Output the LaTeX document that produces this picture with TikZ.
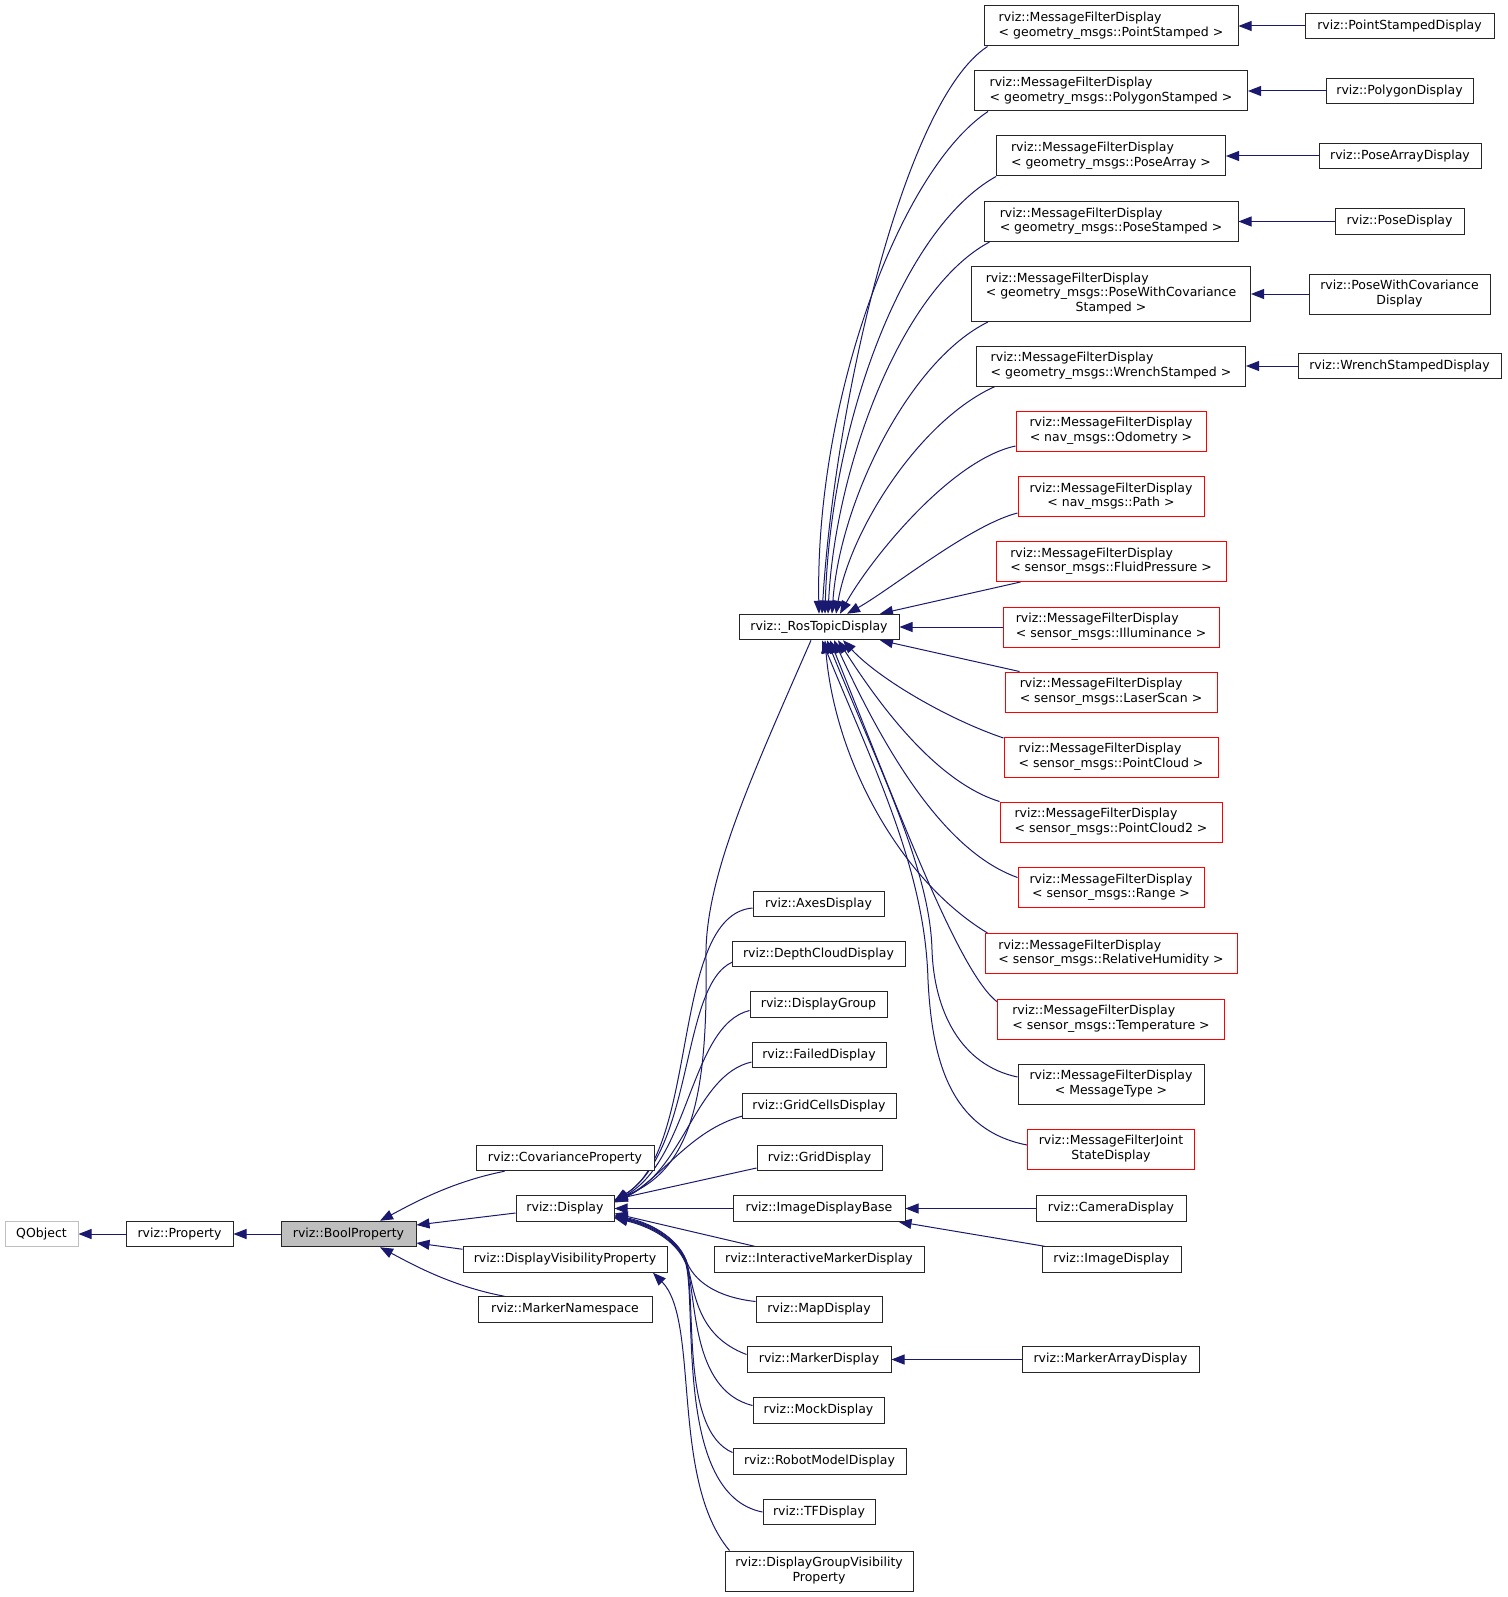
\documentclass[tikz,border=0pt]{standalone}
\usepackage{fontspec}
\setmainfont{DejaVu Sans}
\usetikzlibrary{arrows.meta,calc}
\definecolor{edgeblue}{HTML}{191970}
\definecolor{greyseventyfive}{HTML}{BFBFBF}
\pgfdeclarelayer{edgelayer}
\pgfsetlayers{edgelayer,main}
\newcommand\mfdtwo[2]{\begin{tabular}{@{}c@{}}\multicolumn{1}{@{}l@{}}{#1}\\#2\end{tabular}}
\newcommand\ctwo[2]{\begin{tabular}{@{}c@{}}#1\\#2\end{tabular}}
\newcommand\mfd[1]{\mfdtwo{rviz::MessageFilterDisplay}{#1}}
\begin{document}
\begin{tikzpicture}[x=1pt,y=-1pt,
  box/.style={draw=black!85, line width=1pt, fill=white, inner sep=0pt, minimum height=25.5pt, font=\fontsize{12.5}{14.4}\selectfont, text=black},
  redbox/.style={box, draw=red},
  extbox/.style={box, draw=greyseventyfive},
  two/.style={minimum height=40pt},
  three/.style={minimum height=55pt},
  edge/.style={draw=edgeblue, line width=1pt, {Triangle[length=13pt,width=10pt]}-}
]
\begin{pgfonlayer}{edgelayer}
\fill[white] (0,0) rectangle (1507,1597);
\end{pgfonlayer}
\useasboundingbox (0,0) rectangle (1507,1597);

% left part
\node[extbox, minimum width=73pt] (qobject) at (41.5,1234) {QObject};
\node[box, minimum width=107pt] (property) at (179.5,1234) {rviz::Property};
\node[box, minimum width=135pt, fill=greyseventyfive] (boolp) at (348.5,1234) {rviz::BoolProperty};
\node[box, minimum width=178pt] (covp) at (565,1158) {rviz::CovarianceProperty};
\node[box, minimum width=98pt] (display) at (565,1208.5) {rviz::Display};
\node[box, minimum width=204pt] (dvp) at (565,1259.5) {rviz::DisplayVisibilityProperty};
\node[box, minimum width=174pt] (markerns) at (565,1309.5) {rviz::MarkerNamespace};

% middle column
\node[box, minimum width=160pt] (ros) at (819,627) {rviz::\_RosTopicDisplay};
\node[box, minimum width=131pt] (axes) at (818.5,904) {rviz::AxesDisplay};
\node[box, minimum width=173pt] (depth) at (818.5,954) {rviz::DepthCloudDisplay};
\node[box, minimum width=137pt] (dgroup) at (818.5,1004.5) {rviz::DisplayGroup};
\node[box, minimum width=134pt] (failed) at (819,1055) {rviz::FailedDisplay};
\node[box, minimum width=154pt] (gridcells) at (819,1106) {rviz::GridCellsDisplay};
\node[box, minimum width=125pt] (grid) at (819.5,1158) {rviz::GridDisplay};
\node[box, minimum width=172pt] (idb) at (819,1208.5) {rviz::ImageDisplayBase};
\node[box, minimum width=210pt] (imark) at (819,1259.5) {rviz::InteractiveMarkerDisplay};
\node[box, minimum width=126pt] (map) at (819,1309.5) {rviz::MapDisplay};
\node[box, minimum width=144pt] (marker) at (819,1359.5) {rviz::MarkerDisplay};
\node[box, minimum width=131pt] (mock) at (818.5,1410.5) {rviz::MockDisplay};
\node[box, minimum width=173pt] (robot) at (819.5,1461.5) {rviz::RobotModelDisplay};
\node[box, minimum width=112pt] (tf) at (819,1512) {rviz::TFDisplay};
\node[box, two, minimum width=188pt] (dgvp) at (819,1571) {\ctwo{rviz::DisplayGroupVisibility}{Property}};

% right column
\node[box, minimum width=150pt] (camera) at (1111,1208.5) {rviz::CameraDisplay};
\node[box, minimum width=139pt] (image) at (1111.5,1259.5) {rviz::ImageDisplay};
\node[box, minimum width=177pt] (markerarr) at (1110.5,1359.5) {rviz::MarkerArrayDisplay};

\node[box, two, minimum width=254pt] (m1) at (1111,26) {\mfd{< geometry\_msgs::PointStamped >}};
\node[box, two, minimum width=273pt] (m2) at (1111,91) {\mfd{< geometry\_msgs::PolygonStamped >}};
\node[box, two, minimum width=229pt] (m3) at (1111,156) {\mfd{< geometry\_msgs::PoseArray >}};
\node[box, two, minimum width=254pt] (m4) at (1111,221.5) {\mfd{< geometry\_msgs::PoseStamped >}};
\node[box, three, minimum width=279pt] (m5) at (1111,294) {\begin{tabular}{@{}l@{}}rviz::MessageFilterDisplay\\< geometry\_msgs::PoseWithCovariance\\\multicolumn{1}{@{}c@{}}{Stamped >}\end{tabular}};
\node[box, two, minimum width=269pt] (m6) at (1111,366) {\mfd{< geometry\_msgs::WrenchStamped >}};
\node[redbox, two, minimum width=190pt] (m7) at (1111,431) {\mfd{< nav\_msgs::Odometry >}};
\node[redbox, two, minimum width=186pt] (m8) at (1111,496.5) {\mfd{< nav\_msgs::Path >}};
\node[redbox, two, minimum width=230pt] (m9) at (1111,561.5) {\mfd{< sensor\_msgs::FluidPressure >}};
\node[redbox, two, minimum width=216pt] (m10) at (1111,627) {\mfd{< sensor\_msgs::Illuminance >}};
\node[redbox, two, minimum width=212pt] (m11) at (1111,692) {\mfd{< sensor\_msgs::LaserScan >}};
\node[redbox, two, minimum width=214pt] (m12) at (1111,757) {\mfd{< sensor\_msgs::PointCloud >}};
\node[redbox, two, minimum width=222pt] (m13) at (1111,822) {\mfd{< sensor\_msgs::PointCloud2 >}};
\node[redbox, two, minimum width=186pt] (m14) at (1111,887.5) {\mfd{< sensor\_msgs::Range >}};
\node[redbox, two, minimum width=252pt] (m15) at (1111,953.5) {\mfd{< sensor\_msgs::RelativeHumidity >}};
\node[redbox, two, minimum width=227pt] (m16) at (1111,1019) {\mfd{< sensor\_msgs::Temperature >}};
\node[box, two, minimum width=186pt] (m17) at (1111,1084) {\mfd{< MessageType >}};
\node[redbox, two, minimum width=167pt] (m18) at (1111,1149) {\ctwo{rviz::MessageFilterJoint}{StateDisplay}};

% far right column
\node[box, minimum width=189pt] (d1) at (1399.5,26) {rviz::PointStampedDisplay};
\node[box, minimum width=147pt] (d2) at (1399.5,91) {rviz::PolygonDisplay};
\node[box, minimum width=162pt] (d3) at (1400,156) {rviz::PoseArrayDisplay};
\node[box, minimum width=129pt] (d4) at (1399.5,221.5) {rviz::PoseDisplay};
\node[box, two, minimum width=181pt] (d5) at (1399.5,294) {\ctwo{rviz::PoseWithCovariance}{Display}};
\node[box, minimum width=203pt] (d6) at (1399.5,366) {rviz::WrenchStampedDisplay};

% ---------- edges ----------
\begin{pgfonlayer}{edgelayer}
\draw[edge] (qobject.east) -- (property.west);
\draw[edge] (property.east) -- (boolp.west);
\draw[edge] ($(boolp.north)+(31.5,0)$) .. controls (410,1205) and (450,1182) .. ($(covp.south west)+(29,0)$);
\draw[edge] ($(boolp.east)+(0,-9)$) -- ($(display.west)+(0,4.5)$);
\draw[edge] ($(boolp.east)+(0,9)$) -- ($(dvp.north west)+(0,3)$);
\draw[edge] ($(boolp.south)+(31.5,0)$) .. controls (410,1263) and (450,1286) .. ($(markerns.north west)+(27,0)$);

% Display children
\draw[edge] ($(display.east)+(0,-8.5)$) .. controls (690,1170) and (708,1100) .. (706,960) .. controls (704,880) and (750,780) .. ($(ros.south)+(-8,0)$);
\draw[edge] ($(display.east)+(0,-8)$) .. controls (700,1150) and (670,915) .. ($(axes.west)+(0,4)$);
\draw[edge] ($(display.east)+(0,-7.5)$) .. controls (695,1150) and (680,985) .. ($(depth.west)+(1,8)$);
\draw[edge] ($(display.east)+(0,-7)$) .. controls (690,1160) and (690,1025) .. ($(dgroup.west)+(0,6)$);
\draw[edge] ($(display.east)+(0,-6.5)$) .. controls (685,1170) and (695,1075) .. ($(failed.west)+(0,7)$);
\draw[edge] ($(display.east)+(0,-6)$) .. controls (660,1180) and (690,1130) .. ($(gridcells.west)+(1,10)$);
\draw[edge] ($(display.east)+(0,-9)$) -- ($(grid.west)+(0,10)$);
\draw[edge] (display.east) -- (idb.west);
\draw[edge] ($(display.east)+(0,5)$) -- ($(imark.north west)+(41,0)$);
\draw[edge] ($(display.east)+(0,7)$) .. controls (648,1222) and (676,1236) .. (686,1260) .. controls (693,1280) and (715,1297) .. ($(map.west)+(0,-8)$);
\draw[edge] ($(display.east)+(0,8)$) .. controls (648,1223) and (676,1236) .. (686,1260) .. controls (695,1290) and (695,1335) .. ($(marker.west)+(0,-5)$);
\draw[edge] ($(display.east)+(0,8.5)$) .. controls (648,1224) and (676,1237) .. (686,1262) .. controls (697,1295) and (690,1390) .. ($(mock.west)+(0,-5)$);
\draw[edge] ($(display.east)+(0,9)$) .. controls (648,1225) and (676,1238) .. (686,1263) .. controls (697,1300) and (680,1430) .. ($(robot.west)+(0,-9)$);
\draw[edge] ($(display.east)+(0,9.5)$) .. controls (648,1226) and (676,1239) .. (686,1264) .. controls (697,1310) and (675,1495) .. (tf.west);
\draw[edge] ($(dvp.south)+(88,0)$) .. controls (700,1320) and (670,1480) .. ($(dgvp.north west)+(5,0)$);

\draw[edge] (idb.east) -- (camera.west);
\draw[edge] ($(idb.south east)+(-7,0)$) -- ($(image.north west)+(3,0)$);
\draw[edge] (marker.east) -- (markerarr.west);

% RosTopic children
\draw[edge] ($(ros.north)+(3,0)$) .. controls (835,400) and (905,100) .. ($(m1.south west)+(4,0)$);
\draw[edge] (ros.north) .. controls (815,400) and (900,170) .. ($(m2.south west)+(14,0)$);
\draw[edge] ($(ros.north)+(6,0)$) .. controls (830,430) and (900,230) .. (m3.south west);
\draw[edge] ($(ros.north)+(9,0)$) .. controls (835,470) and (900,290) .. ($(m4.south west)+(6,0)$);
\draw[edge] ($(ros.north)+(13,0)$) .. controls (840,500) and (910,360) .. ($(m5.south west)+(17,0)$);
\draw[edge] ($(ros.north)+(17,0)$) .. controls (850,530) and (920,420) .. ($(m6.south west)+(19,0)$);
\draw[edge] ($(ros.north)+(21,0)$) .. controls (870,560) and (950,460) .. ($(m7.west)+(0,15)$);
\draw[edge] ($(ros.north)+(28,0)$) .. controls (890,590) and (970,525) .. ($(m8.west)+(0,16.5)$);
\draw[edge] ($(ros.north)+(61,0)$) -- ($(m9.south west)+(25,0)$);
\draw[edge] (ros.east) -- (m10.west);
\draw[edge] ($(ros.south)+(61,0)$) -- ($(m11.north west)+(15,0)$);
\draw[edge] ($(ros.south)+(24,0)$) .. controls (880,680) and (950,720) .. ($(m12.west)+(0,-19)$);
\draw[edge] ($(ros.south)+(19,0)$) .. controls (870,690) and (930,780) .. (m13.north west);
\draw[edge] ($(ros.south)+(15,0)$) .. controls (880,740) and (940,850) .. ($(m14.west)+(0,-10)$);
\draw[edge] ($(ros.south)+(6,0)$) .. controls (835,760) and (900,880) .. ($(m15.north west)+(3,0)$);
\draw[edge] ($(ros.south)+(11,0)$) .. controls (900,815) and (960,975) .. ($(m16.north west)+(1,4)$);
\draw[edge] ($(ros.south)+(8,0)$) .. controls (880,770) and (930,870) .. (932,950) .. controls (934,1010) and (960,1065) .. ($(m17.west)+(0,-7)$);
\draw[edge] ($(ros.south)+(3,0)$) .. controls (875,770) and (925,870) .. (928,980) .. controls (932,1060) and (950,1130) .. ($(m18.west)+(0,-4)$);

% MFD children
\draw[edge] (m1.east) -- (d1.west);
\draw[edge] (m2.east) -- (d2.west);
\draw[edge] (m3.east) -- (d3.west);
\draw[edge] (m4.east) -- (d4.west);
\draw[edge] (m5.east) -- (d5.west);
\draw[edge] (m6.east) -- (d6.west);
\end{pgfonlayer}
\end{tikzpicture}
\end{document}
